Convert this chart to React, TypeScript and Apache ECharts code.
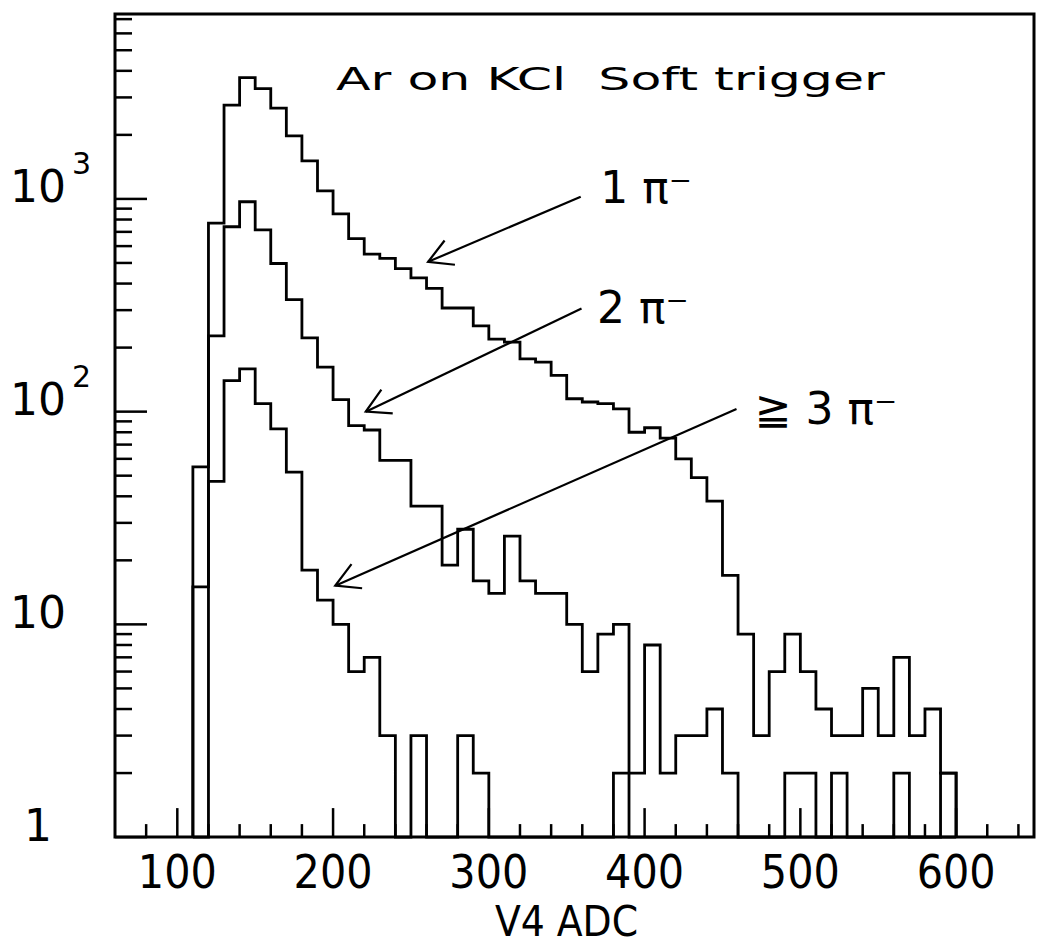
import React, { useEffect, useRef } from "react";
import * as echarts from "echarts";

// ---- data ----
const BIN_STARTS = [110, 120, 130, 140, 150, 160, 170, 180, 190, 200, 210, 220, 230, 240, 250, 260, 270, 280, 290, 300, 310, 320, 330, 340, 350, 360, 370, 380, 390, 400, 410, 420, 430, 440, 450, 460, 470, 480, 490, 500, 510, 520, 530, 540, 550, 560, 570, 580, 590];
const BIN_WIDTH = 10;

const COUNTS_1PI = [55, 770, 2760, 3720, 3300, 2670, 1980, 1510, 1090, 850, 650, 550, 525, 470, 425, 380, 307, 307, 253, 219, 212, 177, 171, 148, 115, 111, 109, 103, 80, 84, 75, 60, 49, 38, 17, 9, 3, 6, 9, 6, 4, 3, 3, 5, 3, 7, 3, 4, 2];
const COUNTS_2PI = [15, 227, 740, 970, 715, 497, 336, 222, 162, 114, 86, 82, 59, 59, 36, 36, 19, 28, 16, 14, 26, 16, 14, 14, 10, 6, 9, 10, 0, 0, 0, 0, 0, 0, 0, 0, 0, 0, 0, 0, 0, 0, 0, 0, 0, 0, 0, 0, 0];
const COUNTS_3PI = [0, 47, 140, 159, 109, 83, 52, 18, 13, 10, 6, 7, 3, 0, 3, 0, 0, 3, 2, 0, 0, 0, 0, 0, 0, 0, 0, 2, 2, 8, 2, 3, 3, 4, 2, 0, 0, 0, 2, 2, 0, 2, 0, 0, 0, 2, 0, 0, 2];

const X_MIN = 60;
const X_MAX = 650;
const Y_MIN = 1;
const Y_MAX = 7400;

const X_MAJOR_TICKS = [100, 200, 300, 400, 500, 600];
const X_MINOR_TICKS = [80, 120, 140, 160, 180, 220, 240, 260, 280, 320, 340, 360, 380, 420, 440, 460, 480, 520, 540, 560, 580, 620, 640];
const Y_MAJOR_TICKS = [1, 10, 100, 1000];
const Y_MINOR_TICKS = [2, 3, 4, 5, 6, 7, 8, 9, 20, 30, 40, 50, 60, 70, 80, 90, 200, 300, 400, 500, 600, 700, 800, 900, 2000, 3000, 4000, 5000, 6000, 7000];

const TITLE = "Ar on KCl  Soft trigger";
const X_NAME = "V4 ADC";

const LABEL_TEXTS = ["1 π⁻", "2 π⁻", "≧ 3 π⁻"];
const LABEL_X = [371.5, 369.4, 470.7];
const LABEL_Y = [1127, 310, 103];

const ARROW_TAIL_X = [359, 359.5, 459];
const ARROW_TAIL_Y = [1024, 305, 103];
const ARROW_HEAD_X = [261, 221, 201.4];
const ARROW_HEAD_Y = [506, 100, 15.2];

// ---- styles ----
const FONT = "'DejaVu Sans', sans-serif";
const NARROW = "'Liberation Sans Narrow', 'DejaVu Sans Condensed', 'Liberation Sans', sans-serif";
const TICK_LEN = [13, 29, 17, 32];

function outline(values: number[]) {
  const pts: number[][] = [];
  pts.push([BIN_STARTS[0], Y_MIN]);
  values.forEach((v, i) => {
    const y = v > 0 ? v : Y_MIN;
    pts.push([BIN_STARTS[i], y]);
    pts.push([BIN_STARTS[i] + BIN_WIDTH, y]);
  });
  pts.push([BIN_STARTS[BIN_STARTS.length - 1] + BIN_WIDTH, Y_MIN]);
  return pts;
}

function histSeries(name: string, values: number[]) {
  return {
    name,
    type: "line",
    data: outline(values),
    showSymbol: false,
    symbol: "none",
    clip: false,
    lineStyle: { color: "#000", width: 2.8, join: "miter" },
    silent: true,
    z: 3,
  };
}

export default function App() {
  const ref = useRef<HTMLDivElement>(null);
  useEffect(() => {
    document.body.style.margin = "0";
    const chart = echarts.init(ref.current!, null, { renderer: "svg" });

    const tickData = [
      ...X_MINOR_TICKS.map((v) => [v, Y_MIN, 0]),
      ...X_MAJOR_TICKS.map((v) => [v, Y_MIN, 1]),
      ...Y_MINOR_TICKS.map((v) => [X_MIN, v, 2]),
      ...Y_MAJOR_TICKS.map((v) => [X_MIN, v, 3]),
    ];
    const arrowData = ARROW_TAIL_X.map((x, i) => [x, ARROW_TAIL_Y[i], ARROW_HEAD_X[i], ARROW_HEAD_Y[i]]);
    const labelData = LABEL_TEXTS.map((_, i) => [LABEL_X[i], LABEL_Y[i], i]);

    const option: any = {
      animation: false,
      backgroundColor: "#fff",
      grid: {
        left: 115,
        right: 1,
        top: 14,
        bottom: 99,
        show: true,
        borderColor: "#000",
        borderWidth: 3,
        backgroundColor: "transparent",
      },
      xAxis: {
        type: "value",
        min: X_MIN,
        max: X_MAX,
        interval: 20,
        axisLine: { show: false },
        axisTick: { show: false },
        splitLine: { show: false },
        axisLabel: {
          margin: 12,
          fontSize: 46,
          fontFamily: NARROW,
          color: "#000",
          formatter: (v: number) => (v % 100 === 0 ? String(v) : ""),
        },
        name: X_NAME,
        nameLocation: "middle",
        nameGap: 62,
        nameTextStyle: { fontSize: 42, fontFamily: NARROW, color: "#000", padding: [0, 16, 0, 0] },
      },
      yAxis: {
        type: "log",
        logBase: 10,
        min: Y_MIN,
        max: Y_MAX,
        axisLine: { show: false },
        axisTick: { show: false },
        splitLine: { show: false },
        axisLabel: {
          align: "left",
          margin: 105,
          verticalAlign: "middle",
          padding: [0, 0, 24, 0],
          formatter: (v: number) => {
            const l = Math.log10(v);
            const e = Math.round(l);
            if (Math.abs(l - e) > 1e-6) return "";
            if (e === 0) return "{one|1}{s| }";
            if (e === 1) return "{b|10}{s| }";
            return `{b|10}{s|${e}}`;
          },
          rich: {
            one: { fontSize: 44, fontFamily: FONT, color: "#000", verticalAlign: "bottom", padding: [0, 0, 0, 14] },
            b: { fontSize: 44, fontFamily: FONT, color: "#000", verticalAlign: "bottom", lineHeight: 44 },
            s: { fontSize: 30, fontFamily: FONT, color: "#000", verticalAlign: "bottom", lineHeight: 30, padding: [0, 0, 30, 6] },
          },
        },
      },
      graphic: [
        {
          type: "text",
          x: 336,
          y: 95,
          scaleX: 1.58,
          style: {
            text: TITLE,
            fontSize: 32,
            fontFamily: FONT,
            fill: "#000",
            textAlign: "left",
            textVerticalAlign: "bottom",
          },
        },
      ],
      series: [
        histSeries("1 π⁻", COUNTS_1PI),
        histSeries("2 π⁻", COUNTS_2PI),
        histSeries("≥3 π⁻", COUNTS_3PI),
        {
          type: "custom",
          name: "ticks",
          data: tickData,
          encode: { x: 0, y: 1 },
          clip: false,
          silent: true,
          z: 4,
          renderItem: (params: any, api: any) => {
            const kind = api.value(2);
            const p = api.coord([api.value(0), api.value(1)]);
            const len = TICK_LEN[kind];
            const shape =
              kind < 2
                ? { x1: p[0], y1: p[1], x2: p[0], y2: p[1] - len }
                : { x1: p[0], y1: p[1], x2: p[0] + len, y2: p[1] };
            return { type: "line", shape, style: { stroke: "#000", lineWidth: 2.5 } };
          },
        },
        {
          type: "custom",
          name: "arrows",
          data: arrowData,
          encode: { x: [0, 2], y: [1, 3] },
          clip: false,
          silent: true,
          z: 5,
          renderItem: (params: any, api: any) => {
            const a = api.coord([api.value(0), api.value(1)]);
            const b = api.coord([api.value(2), api.value(3)]);
            const ang = Math.atan2(a[1] - b[1], a[0] - b[0]);
            const L = 27;
            const sp = 0.51;
            const b1 = [b[0] + L * Math.cos(ang + sp), b[1] + L * Math.sin(ang + sp)];
            const b2 = [b[0] + L * Math.cos(ang - sp), b[1] + L * Math.sin(ang - sp)];
            return {
              type: "group",
              children: [
                { type: "line", shape: { x1: a[0], y1: a[1], x2: b[0], y2: b[1] }, style: { stroke: "#000", lineWidth: 2.2 } },
                { type: "polyline", shape: { points: [b1, b, b2] }, style: { stroke: "#000", lineWidth: 2.2, fill: null } },
              ],
            };
          },
        },
        {
          type: "custom",
          name: "labels",
          data: labelData,
          encode: { x: 0, y: 1 },
          clip: false,
          silent: true,
          z: 6,
          renderItem: (params: any, api: any) => {
            const p = api.coord([api.value(0), api.value(1)]);
            const idx = api.value(2);
            return {
              type: "text",
              x: p[0],
              y: p[1],
              style: {
                text: LABEL_TEXTS[idx],
                fontSize: 44,
                fontFamily: FONT,
                fill: "#000",
                textAlign: "left",
                textVerticalAlign: "middle",
              },
            };
          },
        },
      ],
    };

    chart.setOption(option);
    return () => chart.dispose();
  }, []);
  return <div ref={ref} style={{ width: 1037, height: 947 }} />;
}
